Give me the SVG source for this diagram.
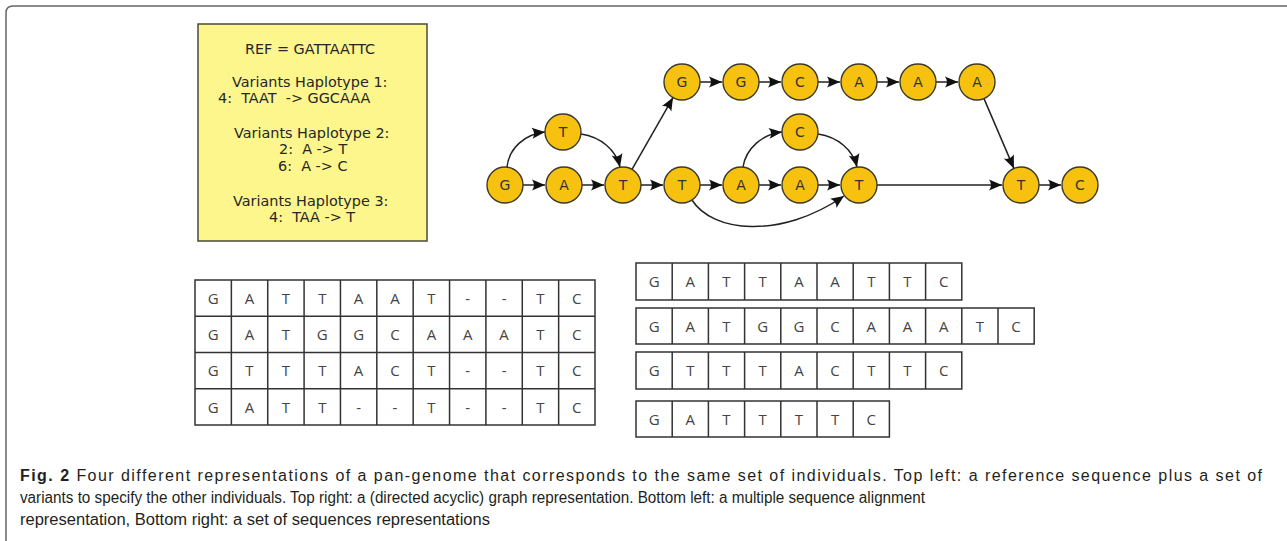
<svg xmlns="http://www.w3.org/2000/svg" width="1287" height="541" viewBox="0 0 1287 541">
<style>
.frame{fill:none;stroke:#666;stroke-width:1.5}
.note{fill:#fcf68d;stroke:#4a4a3a;stroke-width:1.5}
.nt{font-family:"DejaVu Sans",sans-serif;font-size:14.4px;fill:#262626}
.node circle{fill:#f6c20f;stroke:#3a3a2a;stroke-width:1.4}
.node text{font-family:"DejaVu Sans",sans-serif;font-size:14px;fill:#333;text-anchor:middle}
.edge{fill:none;stroke:#222;stroke-width:1.5;marker-end:url(#ah)}
.grid{fill:none;stroke:#333;stroke-width:1.5}
.c{font-family:"Open Sans","DejaVu Sans",sans-serif;font-size:15px;fill:#444;text-anchor:middle}
.cap{font-family:"Liberation Sans",Arial,sans-serif;font-size:16px;fill:#231f20}
</style>
<defs>
<marker id="ah" markerUnits="userSpaceOnUse" markerWidth="16" markerHeight="12" viewBox="-14 -6 16 12" refX="0" refY="0" orient="auto">
<path d="M0,0 L-13,-5.5 Q-9,0 -13,5.5 Z" fill="#111"/>
</marker>
</defs>
<path class="frame" d="M6,541 V13 Q6,6 13,6 H1287"/>
<g id="variants">
<rect class="note" x="198" y="24" width="229" height="217"/>
<text class="nt" x="245" y="54">REF = GATTAATTC</text>
<text class="nt" x="232" y="87">Variants Haplotype 1:</text>
<text class="nt" x="218" y="103" xml:space="preserve">4:  TAAT  -&gt; GGCAAA</text>
<text class="nt" x="234" y="138">Variants Haplotype 2:</text>
<text class="nt" x="279" y="154" xml:space="preserve">2:  A -&gt; T</text>
<text class="nt" x="278" y="171" xml:space="preserve">6:  A -&gt; C</text>
<text class="nt" x="233" y="206">Variants Haplotype 3:</text>
<text class="nt" x="269" y="222" xml:space="preserve">4:  TAA -&gt; T</text>
</g>
<g id="connectors">
<path class="edge" d="M523,185 H545"/>
<path class="edge" d="M582,185 H604"/>
<path class="edge" d="M641,185 H663"/>
<path class="edge" d="M700,185 H722"/>
<path class="edge" d="M759,185 H781"/>
<path class="edge" d="M818,185 H840"/>
<path class="edge" d="M877,185 H1002"/>
<path class="edge" d="M1039,185 H1061"/>
<path class="edge" d="M700,82 H722"/>
<path class="edge" d="M759,82 H781"/>
<path class="edge" d="M818,82 H840"/>
<path class="edge" d="M877,82 H899"/>
<path class="edge" d="M936,82 H958"/>
<path class="edge" d="M632,169.4 L673,97.6"/>
<path class="edge" d="M984,98.6 L1013.9,168.4"/>
<path class="edge" d="M507,167 C509,148 525,134 545,132"/>
<path class="edge" d="M581,134 C601,137 616,150 620,167"/>
<path class="edge" d="M743,167 C746,148 763,134 782,132"/>
<path class="edge" d="M818,134 C838,137 853,150 857,167"/>
<path class="edge" d="M692,200 C712,232 780,240 844,196"/>
</g>
<g id="n-g0" class="node"><circle cx="505" cy="185" r="18"/><text x="505" y="190">G</text></g>
<g id="n-a1" class="node"><circle cx="564" cy="185" r="18"/><text x="564" y="190">A</text></g>
<g id="n-t1v" class="node"><circle cx="563" cy="132" r="18"/><text x="563" y="137">T</text></g>
<g id="n-t2" class="node"><circle cx="623" cy="185" r="18"/><text x="623" y="190">T</text></g>
<g id="n-t3" class="node"><circle cx="682" cy="185" r="18"/><text x="682" y="190">T</text></g>
<g id="n-a4" class="node"><circle cx="741" cy="185" r="18"/><text x="741" y="190">A</text></g>
<g id="n-a5" class="node"><circle cx="800" cy="185" r="18"/><text x="800" y="190">A</text></g>
<g id="n-c5v" class="node"><circle cx="800" cy="132" r="18"/><text x="800" y="137">C</text></g>
<g id="n-t6" class="node"><circle cx="859" cy="185" r="18"/><text x="859" y="190">T</text></g>
<g id="n-g3" class="node"><circle cx="682" cy="82" r="18"/><text x="682" y="87">G</text></g>
<g id="n-g4" class="node"><circle cx="741" cy="82" r="18"/><text x="741" y="87">G</text></g>
<g id="n-c5" class="node"><circle cx="800" cy="82" r="18"/><text x="800" y="87">C</text></g>
<g id="n-a6" class="node"><circle cx="859" cy="82" r="18"/><text x="859" y="87">A</text></g>
<g id="n-a7" class="node"><circle cx="918" cy="82" r="18"/><text x="918" y="87">A</text></g>
<g id="n-a8" class="node"><circle cx="977" cy="82" r="18"/><text x="977" y="87">A</text></g>
<g id="n-t9" class="node"><circle cx="1021" cy="185" r="18"/><text x="1021" y="190">T</text></g>
<g id="n-c10" class="node"><circle cx="1080" cy="185" r="18"/><text x="1080" y="190">C</text></g>
<g id="msa">
<path class="grid" d="M195,280 H595 V425 H195 Z M195,316.25 H595 M195,352.5 H595 M195,388.75 H595 M231.36,280 V425 M267.73,280 V425 M304.09,280 V425 M340.45,280 V425 M376.82,280 V425 M413.18,280 V425 M449.55,280 V425 M485.91,280 V425 M522.27,280 V425 M558.64,280 V425"/>
<text class="c" x="213.2" y="303.5">G</text><text class="c" x="249.5" y="303.5">A</text><text class="c" x="285.9" y="303.5">T</text><text class="c" x="322.3" y="303.5">T</text><text class="c" x="358.6" y="303.5">A</text><text class="c" x="395" y="303.5">A</text><text class="c" x="431.4" y="303.5">T</text><text class="c" x="467.7" y="303.5">-</text><text class="c" x="504.1" y="303.5">-</text><text class="c" x="540.5" y="303.5">T</text><text class="c" x="576.8" y="303.5">C</text>
<text class="c" x="213.2" y="340">G</text><text class="c" x="249.5" y="340">A</text><text class="c" x="285.9" y="340">T</text><text class="c" x="322.3" y="340">G</text><text class="c" x="358.6" y="340">G</text><text class="c" x="395" y="340">C</text><text class="c" x="431.4" y="340">A</text><text class="c" x="467.7" y="340">A</text><text class="c" x="504.1" y="340">A</text><text class="c" x="540.5" y="340">T</text><text class="c" x="576.8" y="340">C</text>
<text class="c" x="213.2" y="376">G</text><text class="c" x="249.5" y="376">T</text><text class="c" x="285.9" y="376">T</text><text class="c" x="322.3" y="376">T</text><text class="c" x="358.6" y="376">A</text><text class="c" x="395" y="376">C</text><text class="c" x="431.4" y="376">T</text><text class="c" x="467.7" y="376">-</text><text class="c" x="504.1" y="376">-</text><text class="c" x="540.5" y="376">T</text><text class="c" x="576.8" y="376">C</text>
<text class="c" x="213.2" y="412.5">G</text><text class="c" x="249.5" y="412.5">A</text><text class="c" x="285.9" y="412.5">T</text><text class="c" x="322.3" y="412.5">T</text><text class="c" x="358.6" y="412.5">-</text><text class="c" x="395" y="412.5">-</text><text class="c" x="431.4" y="412.5">T</text><text class="c" x="467.7" y="412.5">-</text><text class="c" x="504.1" y="412.5">-</text><text class="c" x="540.5" y="412.5">T</text><text class="c" x="576.8" y="412.5">C</text>
</g>
<g id="seqs">
<path class="grid" d="M636,263 H961.8 V300 H636 Z M672.2,263 V300 M708.4,263 V300 M744.6,263 V300 M780.8,263 V300 M817,263 V300 M853.2,263 V300 M889.4,263 V300 M925.6,263 V300"/>
<path class="grid" d="M636,308 H1034.2 V344 H636 Z M672.2,308 V344 M708.4,308 V344 M744.6,308 V344 M780.8,308 V344 M817,308 V344 M853.2,308 V344 M889.4,308 V344 M925.6,308 V344 M961.8,308 V344 M998,308 V344"/>
<path class="grid" d="M636,352 H961.8 V389 H636 Z M672.2,352 V389 M708.4,352 V389 M744.6,352 V389 M780.8,352 V389 M817,352 V389 M853.2,352 V389 M889.4,352 V389 M925.6,352 V389"/>
<path class="grid" d="M636,401 H889.4 V437 H636 Z M672.2,401 V437 M708.4,401 V437 M744.6,401 V437 M780.8,401 V437 M817,401 V437 M853.2,401 V437"/>
<text class="c" x="654.1" y="287">G</text><text class="c" x="690.3" y="287">A</text><text class="c" x="726.5" y="287">T</text><text class="c" x="762.7" y="287">T</text><text class="c" x="798.9" y="287">A</text><text class="c" x="835.1" y="287">A</text><text class="c" x="871.3" y="287">T</text><text class="c" x="907.5" y="287">T</text><text class="c" x="943.7" y="287">C</text>
<text class="c" x="654.1" y="331.5">G</text><text class="c" x="690.3" y="331.5">A</text><text class="c" x="726.5" y="331.5">T</text><text class="c" x="762.7" y="331.5">G</text><text class="c" x="798.9" y="331.5">G</text><text class="c" x="835.1" y="331.5">C</text><text class="c" x="871.3" y="331.5">A</text><text class="c" x="907.5" y="331.5">A</text><text class="c" x="943.7" y="331.5">A</text><text class="c" x="979.9" y="331.5">T</text><text class="c" x="1016.1" y="331.5">C</text>
<text class="c" x="654.1" y="376">G</text><text class="c" x="690.3" y="376">T</text><text class="c" x="726.5" y="376">T</text><text class="c" x="762.7" y="376">T</text><text class="c" x="798.9" y="376">A</text><text class="c" x="835.1" y="376">C</text><text class="c" x="871.3" y="376">T</text><text class="c" x="907.5" y="376">T</text><text class="c" x="943.7" y="376">C</text>
<text class="c" x="654.1" y="424.5">G</text><text class="c" x="690.3" y="424.5">A</text><text class="c" x="726.5" y="424.5">T</text><text class="c" x="762.7" y="424.5">T</text><text class="c" x="798.9" y="424.5">T</text><text class="c" x="835.1" y="424.5">T</text><text class="c" x="871.3" y="424.5">C</text>
</g>
<g id="caption">
<text class="cap" x="20" y="481" textLength="1242" lengthAdjust="spacing"><tspan font-weight="bold">Fig. 2</tspan> Four different representations of a pan-genome that corresponds to the same set of individuals. Top left: a reference sequence plus a set of</text>
<text class="cap" x="20" y="503" textLength="905" lengthAdjust="spacingAndGlyphs">variants to specify the other individuals. Top right: a (directed acyclic) graph representation. Bottom left: a multiple sequence alignment</text>
<text class="cap" x="20" y="525" textLength="470" lengthAdjust="spacingAndGlyphs">representation, Bottom right: a set of sequences representations</text>
</g>
</svg>
